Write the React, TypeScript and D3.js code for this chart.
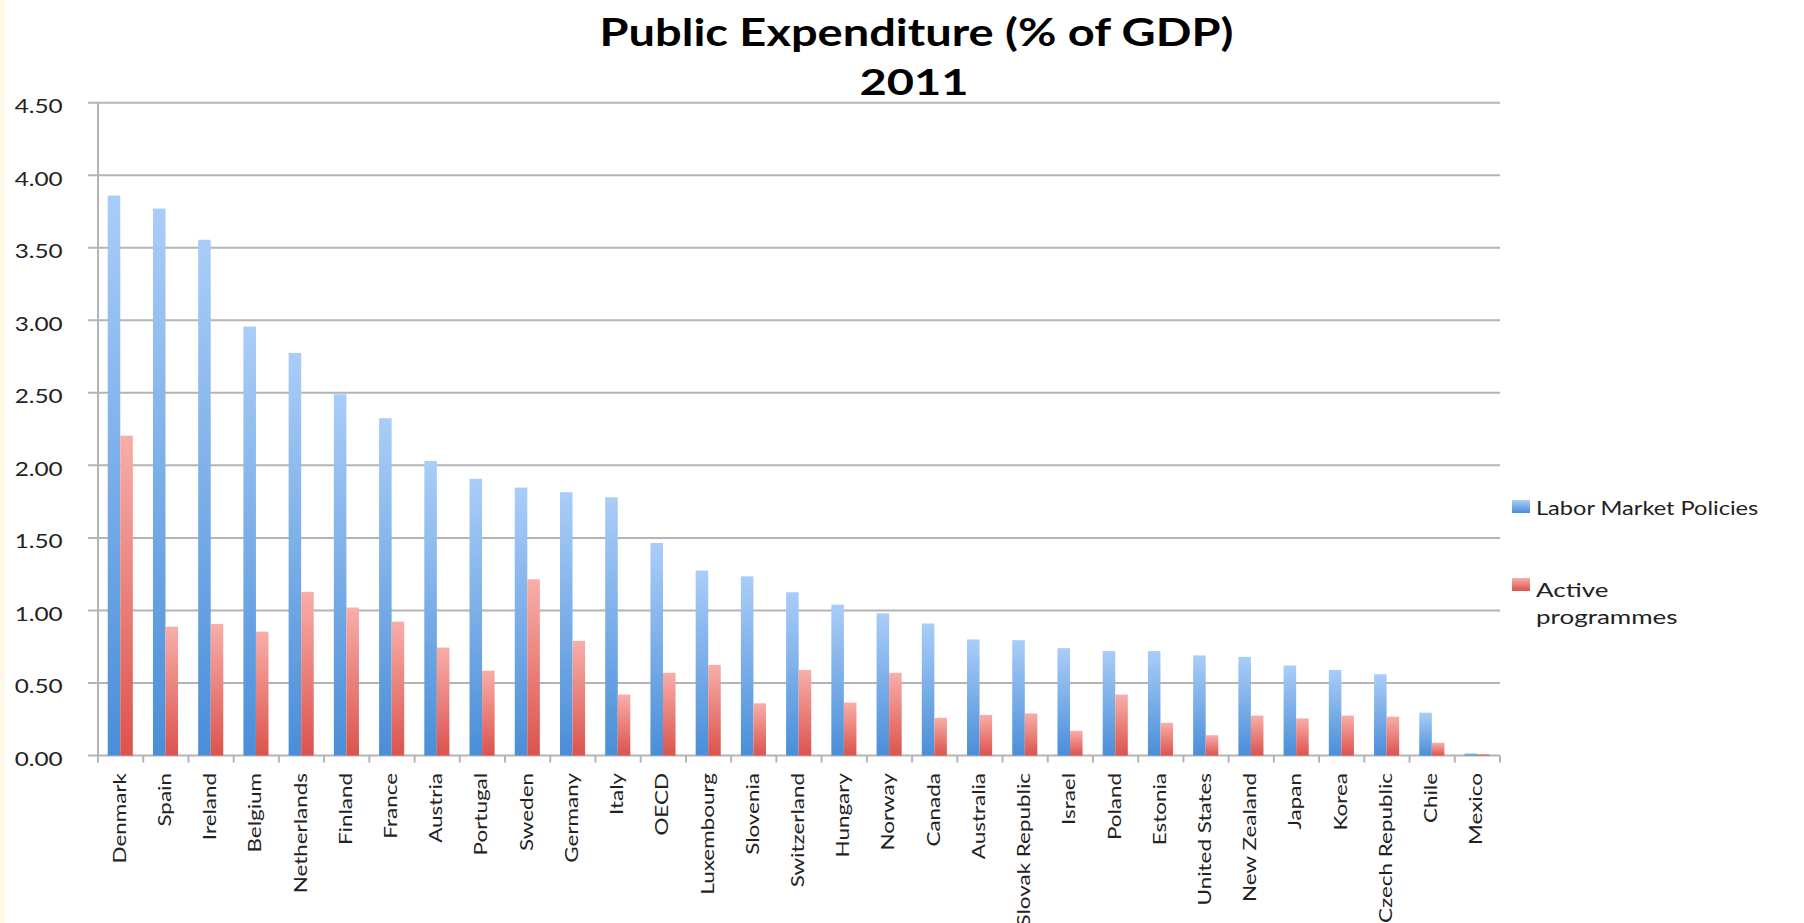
import React from "react";
import * as d3 from "d3";

const categories = [
  "Denmark", "Spain", "Ireland", "Belgium", "Netherlands", "Finland", "France", "Austria",
  "Portugal", "Sweden", "Germany", "Italy", "OECD", "Luxembourg", "Slovenia", "Switzerland",
  "Hungary", "Norway", "Canada", "Australia", "Slovak Republic", "Israel", "Poland", "Estonia",
  "United States", "New Zealand", "Japan", "Korea", "Czech Republic", "Chile", "Mexico",
];
const laborMarketPolicies = [
  3.86, 3.77, 3.555, 2.957, 2.775, 2.49, 2.325, 2.03, 1.907, 1.847, 1.815, 1.78, 1.465, 1.275,
  1.235, 1.125, 1.04, 0.98, 0.91, 0.80, 0.795, 0.74, 0.72, 0.72, 0.69, 0.68, 0.62, 0.59, 0.56,
  0.295, 0.015,
];
const activeProgrammes = [
  2.205, 0.888, 0.907, 0.854, 1.128, 1.02, 0.923, 0.744, 0.585, 1.215, 0.79, 0.42, 0.57, 0.625,
  0.36, 0.59, 0.365, 0.57, 0.26, 0.28, 0.29, 0.17, 0.42, 0.225, 0.14, 0.275, 0.256, 0.275, 0.268,
  0.088, 0.01,
];
const yTicks = [0, 0.5, 1, 1.5, 2, 2.5, 3, 3.5, 4, 4.5];
const seriesNames = ["Labor Market Policies", "Active programmes"];

const W = 1804;
const H = 923;
const X0 = 98;
const X1 = 1500;
const Y0 = 755.5;
const Y1 = 102.7;
const FONT = "Lato, 'Open Sans', sans-serif";

export default function App() {
  const x = d3.scaleBand<string>().domain(categories).range([X0, X1]).paddingInner(0).paddingOuter(0);
  const bw = x.bandwidth();
  const xs = d3.scaleBand<string>().domain(["lmp", "act"]).range([bw * 0.215, bw * 0.77]);
  const y = d3.scaleLinear().domain([0, 4.5]).range([Y0, Y1]);
  const fmt = d3.format(".2f");
  const gridColor = "#b4b4b4";

  return (
    <svg
      width={W}
      height={H}
      style={{ position: "absolute", left: 0, top: 0, background: "#ffffff" }}
    >
      <defs>
        <linearGradient id="gBlue" x1="0" y1="0" x2="0" y2="1">
          <stop offset="0" stopColor="#aacdf8" />
          <stop offset="1" stopColor="#4a8ed8" />
        </linearGradient>
        <linearGradient id="gRed" x1="0" y1="0" x2="0" y2="1">
          <stop offset="0" stopColor="#f8aea9" />
          <stop offset="1" stopColor="#dc534d" />
        </linearGradient>
      </defs>
      <rect x={0} y={0} width={W} height={H} fill="#ffffff" />
      <rect x={0} y={0} width={5} height={H} fill="#fdf8e8" />

      {/* title */}
      <g fontFamily={FONT} fontWeight={700} fill="#000" textAnchor="middle">
        <text transform={`translate(916.5,46) scale(1.27,1.03)`} fontSize={37}>
          Public Expenditure (% of GDP)
        </text>
        <text transform={`translate(914,95) scale(1.27,1)`} fontSize={37}>
          2011
        </text>
      </g>

      {/* gridlines */}
      {yTicks.map((t) => (
        <line key={"g" + t} x1={X0 - 10} x2={X1} y1={y(t)} y2={y(t)} stroke={gridColor} strokeWidth={2} />
      ))}
      {/* y axis */}
      <line x1={X0} x2={X0} y1={Y1} y2={Y0 + 7} stroke={gridColor} strokeWidth={2} />
      {/* x ticks */}
      {d3.range(categories.length + 1).map((i) => {
        const xx = X0 + i * bw;
        return <line key={"xt" + i} x1={xx} x2={xx} y1={Y0} y2={Y0 + 7} stroke={gridColor} strokeWidth={2} />;
      })}

      {/* y tick labels */}
      <g fontFamily={FONT} fill="#222" textAnchor="end" fontSize={19}>
        {yTicks.map((t) => (
          <text key={"yl" + t} transform={`translate(62.7,${y(t) + 10.5}) scale(1.28,1)`}>
            {fmt(t)}
          </text>
        ))}
      </g>

      {/* bars */}
      {categories.map((c, i) => (
        <g key={c}>
          <rect
            x={(x(c) as number) + (xs("lmp") as number)}
            y={y(laborMarketPolicies[i])}
            width={xs.bandwidth()}
            height={Y0 - y(laborMarketPolicies[i])}
            fill="url(#gBlue)"
          />
          <rect
            x={(x(c) as number) + (xs("act") as number)}
            y={y(activeProgrammes[i])}
            width={xs.bandwidth()}
            height={Y0 - y(activeProgrammes[i])}
            fill="url(#gRed)"
          />
        </g>
      ))}

      {/* x labels */}
      <g fontFamily={FONT} fill="#222" textAnchor="end" fontSize={16.5}>
        {categories.map((c) => (
          <text
            key={"xl" + c}
            transform={`translate(${(x(c) as number) + bw / 2 + 5},773) rotate(-90) scale(1.36,1)`}
          >
            {c}
          </text>
        ))}
      </g>

      {/* legend */}
      <g fontFamily={FONT} fill="#222" fontSize={20}>
        <rect x={1512} y={500} width={18} height={13} fill="url(#gBlue)" />
        <text transform="translate(1536,515) scale(1.18,1)">{seriesNames[0]}</text>
        <rect x={1512} y={578} width={18} height={13} fill="url(#gRed)" />
        <text transform="translate(1536,596.5) scale(1.3,1)">Active</text>
        <text transform="translate(1536,624) scale(1.3,1)">programmes</text>
      </g>
    </svg>
  );
}
